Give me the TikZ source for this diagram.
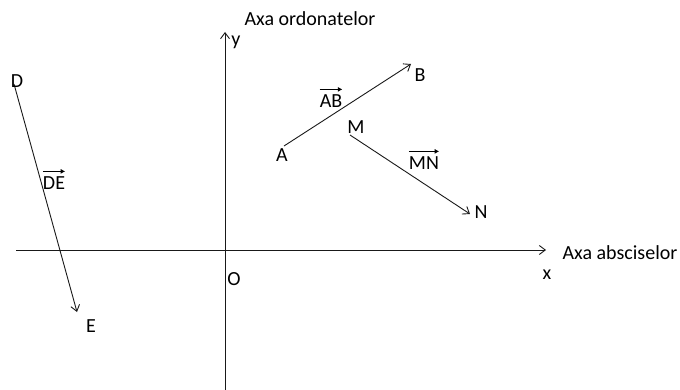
\documentclass[tikz,border=0pt]{standalone}
\usepackage{fontspec}
\setmainfont{Carlito}
\usetikzlibrary{arrows.meta}
\begin{document}
\begin{tikzpicture}[x=1pt,y=-1pt,
  lbl/.style={inner sep=0pt,font=\fontsize{20pt}{23pt}\selectfont},
  ln/.style={draw=black!90,line width=0.9pt},
  vec/.style={ln,-{Straight Barb[length=6pt,width=9pt]}},
  vecarrow/.style={draw=black,line width=1.2pt,-{Latex[length=4.5pt,width=5pt]}}]
\useasboundingbox (0,0) rectangle (680,390);
% axes
\coordinate (xs) at (16,250);
\coordinate (xe) at (546,250);
\coordinate (ys) at (225,390);
\coordinate (ye) at (225,32);
\draw[vec] (xs) -- (xe);
\draw[vec] (ys) -- (ye);
\node[lbl] (ordo) at (310,19) {Axa ordonatelor};
\node[lbl] (absc) at (620,253) {Axa absciselor};
\node[lbl] (ylab) at (236,42) {y};
\node[lbl] (xlab) at (547,275) {x};
\node[lbl] (olab) at (234,279) {O};
% vectors
\coordinate (pA) at (284,146);
\coordinate (pB) at (411,64);
\coordinate (pM) at (350,135);
\coordinate (pN) at (470,214);
\coordinate (pD) at (14,84);
\coordinate (pE) at (77,312);
\draw[vec] (pA) -- (pB);
\draw[vec] (pM) -- (pN);
\draw[vec] (pD) -- (pE);
\node[lbl] (la) at (282,155) {A};
\node[lbl] (lb) at (420,75) {B};
\node[lbl] (lm) at (356,127) {M};
\node[lbl] (ln) at (481,212) {N};
\node[lbl] (ld) at (17,81) {D};
\node[lbl] (le) at (91,326) {E};
\node[lbl] (ab) at (331,101) {AB};
\node[lbl] (mn) at (424,163) {MN};
\node[lbl] (de) at (54,183) {DE};
\draw[vecarrow] ([yshift=5pt]ab.north west) -- ([yshift=5pt]ab.north east);
\draw[vecarrow] ([yshift=5pt]mn.north west) -- ([yshift=5pt]mn.north east);
\draw[vecarrow] ([yshift=5pt]de.north west) -- ([yshift=5pt]de.north east);
\end{tikzpicture}
\end{document}
